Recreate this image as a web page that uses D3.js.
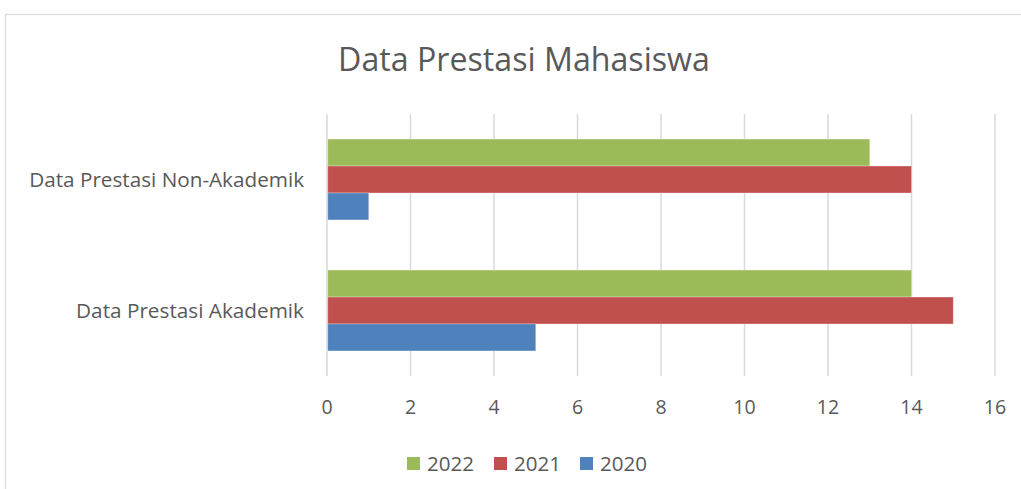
<!DOCTYPE html>
<html><head><meta charset="utf-8">
<script src="https://cdn.jsdelivr.net/npm/d3@7"></script>
<style>
html,body{margin:0;padding:0;background:#fff;}
svg text{font-family:"Open Sans","Noto Sans",sans-serif;fill:#595959;}
</style></head>
<body><svg id="c" width="1021" height="489"></svg>
<script>
const categories = ["Data Prestasi Non-Akademik", "Data Prestasi Akademik"];
const series = ["2022", "2021", "2020"];
const values2022 = [13, 14];
const values2021 = [14, 15];
const values2020 = [1, 5];
const xTicks = [0, 2, 4, 6, 8, 10, 12, 14, 16];
const colors = ["#9BBB59", "#C0504D", "#4F81BD"];
const seriesValues = [values2022, values2021, values2020];

const svg = d3.select("#c");
// chart border
svg.append("rect").attr("x", 5.5).attr("y", 14.5).attr("width", 1030).attr("height", 500)
  .attr("fill", "#fff").attr("stroke", "#D9D9D9").attr("stroke-width", 1.2);

const x = d3.scaleLinear().domain([0, 16]).range([327, 995]);
const y0 = d3.scaleBand().domain(categories).range([114, 376]);
const y1 = d3.scaleBand().domain(series).range([0, y0.bandwidth()]).paddingOuter(0.93);

// gridlines
svg.append("g").selectAll("line").data(xTicks).join("line")
  .attr("x1", d => x(d)).attr("x2", d => x(d)).attr("y1", 114).attr("y2", 376)
  .attr("stroke", "#D9D9D9").attr("stroke-width", 1.5);

// bars
const g = svg.append("g");
series.forEach((s, si) => {
  g.selectAll(null).data(categories).join("rect")
    .attr("x", x(0) + 0.75)
    .attr("y", c => y0(c) + y1(s))
    .attr("width", (c, ci) => x(seriesValues[si][ci]) - x(0) - 0.75)
    .attr("height", y1.bandwidth())
    .attr("fill", colors[si])
    .attr("stroke", "#fff").attr("stroke-opacity", 0.35).attr("stroke-width", 0.8);
});

function fit(sel, w) {
  const n = sel.node(); const cur = parseFloat(sel.attr("font-size"));
  const len = n.getComputedTextLength(); sel.attr("font-size", cur * w / len);
}

// title
const t = svg.append("text").attr("x", 524).attr("y", 71).attr("text-anchor", "middle")
  .attr("font-size", 28).text("Data Prestasi Mahasiswa");
fit(t, 372);

// category labels
categories.forEach((c, i) => {
  const tt = svg.append("text").attr("x", 304).attr("y", y0(c) + y0.bandwidth() / 2)
    .attr("dy", "0.35em").attr("text-anchor", "end").attr("font-size", 18).text(c);
  fit(tt, i === 0 ? 275 : 228);
});

// x tick labels
svg.append("g").selectAll("text").data(xTicks).join("text")
  .attr("x", d => x(d)).attr("y", 407).attr("dy", "0.35em").attr("text-anchor", "middle")
  .attr("font-size", 19.5).text(d => d);

// legend
const legX = [407, 494, 580];
series.forEach((s, i) => {
  svg.append("rect").attr("x", legX[i]).attr("y", 457).attr("width", 13).attr("height", 13).attr("fill", colors[i]);
  const lt = svg.append("text").attr("x", legX[i] + 20).attr("y", 463.5).attr("dy", "0.35em")
    .attr("font-size", 18).text(s);
  fit(lt, 47);
});
</script></body></html>
